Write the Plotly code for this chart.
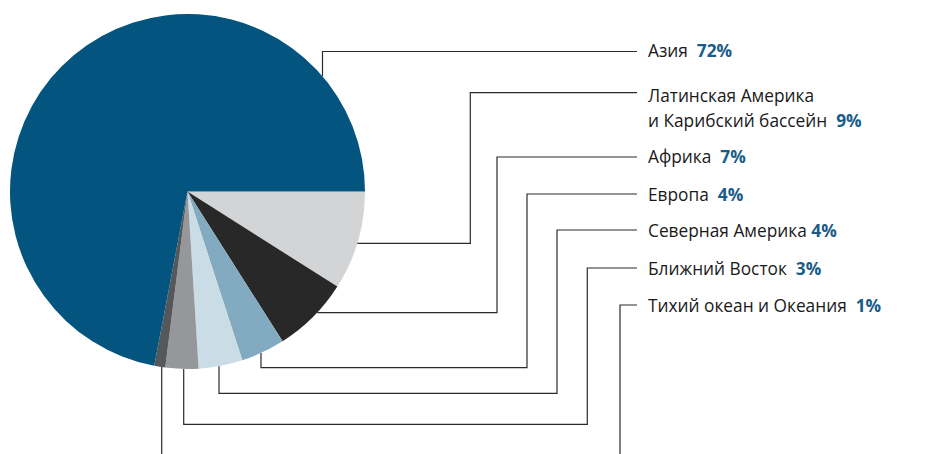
import math
import plotly.graph_objects as go

# Regional shares, listed clockwise from 3 o'clock
regions = [
    "Латинская Америка и Карибский бассейн",
    "Африка",
    "Европа",
    "Северная Америка",
    "Ближний Восток",
    "Тихий океан и Океания",
    "Азия",
]
shares = [9, 7, 4, 4, 3, 1, 72]
colors = ["#D3D4D6", "#282828", "#82ABC2", "#CADCE5", "#96979A", "#555759", "#03547F"]

# Label text (top to bottom) and the region each one describes
label_text = [
    "Азия",
    "Латинская Америка<br>и Карибский бассейн",
    "Африка",
    "Европа",
    "Северная Америка",
    "Ближний Восток",
    "Тихий океан и Океания",
]
label_idx = [6, 0, 1, 2, 3, 4, 5]
label_gap = [2, 2, 2, 2, 1, 2, 2]

W, H = 941, 454
CX, CY, R = 187.5, 191.5, 177.5
TEXT_X = 646
LINE_END = 637
LINE_STEP = 24
PCT_COLOR = "#1A5C88"
LINE_COLOR = "#2b2b2b"


def px(x, y):
    return x / W, 1 - y / H


def edge_y(x, lower=True):
    d = math.sqrt(R * R - (x - CX) ** 2)
    return CY + d if lower else CY - d


def edge_x(y):
    return CX + math.sqrt(R * R - (y - CY) ** 2)


fig = go.Figure()
fig.add_trace(go.Pie(
    labels=regions,
    values=shares,
    sort=False,
    direction="clockwise",
    rotation=90,
    marker=dict(colors=colors, line=dict(width=0)),
    textinfo="none",
    hoverinfo="label+percent",
    showlegend=False,
    domain=dict(x=[(CX - R) / W, (CX + R) / W], y=[1 - (CY + R) / H, 1 - (CY - R) / H]),
))

# Leader line routes (pixel coordinates), one per label
label_y = [51, 96, 156, 194, 230, 268, 305]
routes = [
    [(322.5, edge_y(322.5, lower=False)), (322.5, 51.5), (LINE_END, 51.5)],
    [(edge_x(243.3), 243.3), (470.3, 243.3), (470.3, 92.7), (LINE_END, 92.7)],
    [(edge_x(312.7), 312.7), (497, 312.7), (497, 157), (LINE_END, 157)],
    [(261, edge_y(261)), (261, 367.7), (527, 367.7), (527, 194), (LINE_END, 194)],
    [(219, edge_y(219)), (219, 393.3), (557, 393.3), (557, 230), (LINE_END, 230)],
    [(183.7, edge_y(183.7)), (183.7, 424.3), (587.3, 424.3), (587.3, 268), (LINE_END, 268)],
    [(161.7, edge_y(161.7)), (161.7, H + 5)],
    [(620, H + 5), (620, 305), (LINE_END, 305)],
]

shapes = []
for pts in routes:
    path = ""
    for i, (x, y) in enumerate(pts):
        u, v = px(x, y)
        path += ("M" if i == 0 else "L") + f" {u:.5f} {v:.5f} "
    shapes.append(dict(type="path", xref="paper", yref="paper", path=path,
                       line=dict(color=LINE_COLOR, width=1.2)))

annotations = []
for txt, idx, gap, y in zip(label_text, label_idx, label_gap, label_y):
    lines = txt.split("<br>")
    pct = "\u00a0" * gap + f"<span style='color:{PCT_COLOR}'><b>{shares[idx]}%</b></span>"
    for k, line in enumerate(lines):
        text = line + (pct if k == len(lines) - 1 else "")
        u, v = px(TEXT_X, y + k * LINE_STEP)
        annotations.append(dict(
            x=u, y=v, xref="paper", yref="paper", xanchor="left", yanchor="middle",
            text=text, showarrow=False, align="left",
            font=dict(family="Open Sans", size=17.3, color="#1a1a1a"),
        ))

fig.update_layout(
    width=W, height=H,
    margin=dict(l=0, r=0, t=0, b=0),
    paper_bgcolor="white", plot_bgcolor="white",
    shapes=shapes, annotations=annotations,
)

fig.write_html("out.html")
